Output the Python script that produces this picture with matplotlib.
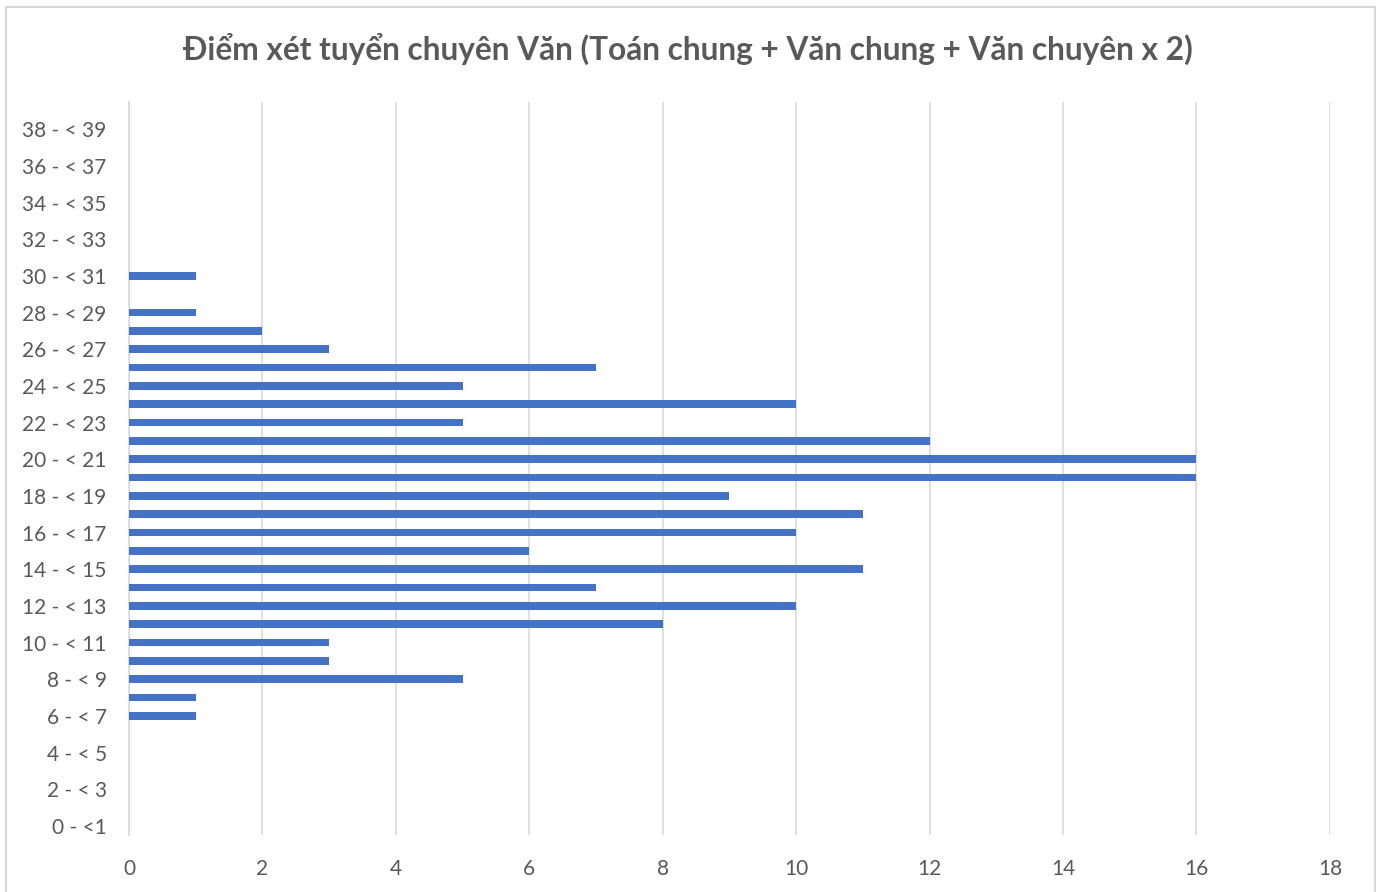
import numpy as np
import matplotlib.pyplot as plt
from matplotlib.patches import Rectangle

# khoang diem 0-<1 ... 39-<40
lower = list(range(40))
labels = ["0 - <1"] + ["%d - < %d" % (a, a + 1) for a in lower[1:]]
counts = [0, 0, 0, 0, 0, 0, 1, 1, 5, 3,
          3, 8, 10, 7, 11, 6, 10, 11, 9, 16,
          16, 12, 5, 10, 5, 7, 3, 2, 1, 0,
          1, 0, 0, 0, 0, 0, 0, 0, 0, 0]

plt.rcParams['font.family'] = ['Lato', 'DejaVu Sans']
grey = "#595959"

fig = plt.figure(figsize=(13.82, 8.92), dpi=100)
ax = fig.add_axes([0.0933, 0.0639, 0.869, 0.822])

y = np.arange(len(counts))
ax.barh(y, counts, height=0.42, color="#4472c4", zorder=3)

ax.set_xlim(0, 18)
ax.set_ylim(-0.5, len(counts) - 0.5)
ax.set_xticks(np.arange(0, 19, 2))
ax.set_yticks(y[::2])
ax.set_yticklabels(labels[::2])
ax.tick_params(axis="both", length=0, labelsize=15, colors=grey)
ax.tick_params(axis="x", pad=17)
ax.tick_params(axis="y", pad=16)
for lab in ax.get_yticklabels():
    lab.set_horizontalalignment("right")

ax.grid(axis="x", color="#d9d9d9", linewidth=1.2, zorder=0)
for s in ["top", "right", "bottom"]:
    ax.spines[s].set_visible(False)
ax.spines["left"].set_color("#d9d9d9")
ax.spines["left"].set_linewidth(1.2)

fig.text(0.498, 0.945, "Điểm xét tuyển chuyên Văn (Toán chung + Văn chung + Văn chuyên x 2)",
         ha="center", va="center", fontsize=22.8, fontweight="bold", color=grey)

fig.patches.append(Rectangle((0.004, -0.01), 0.991, 1.002, transform=fig.transFigure,
                             fill=False, edgecolor="#d9d9d9", linewidth=1.5))

fig.savefig("out.png", dpi=100)
